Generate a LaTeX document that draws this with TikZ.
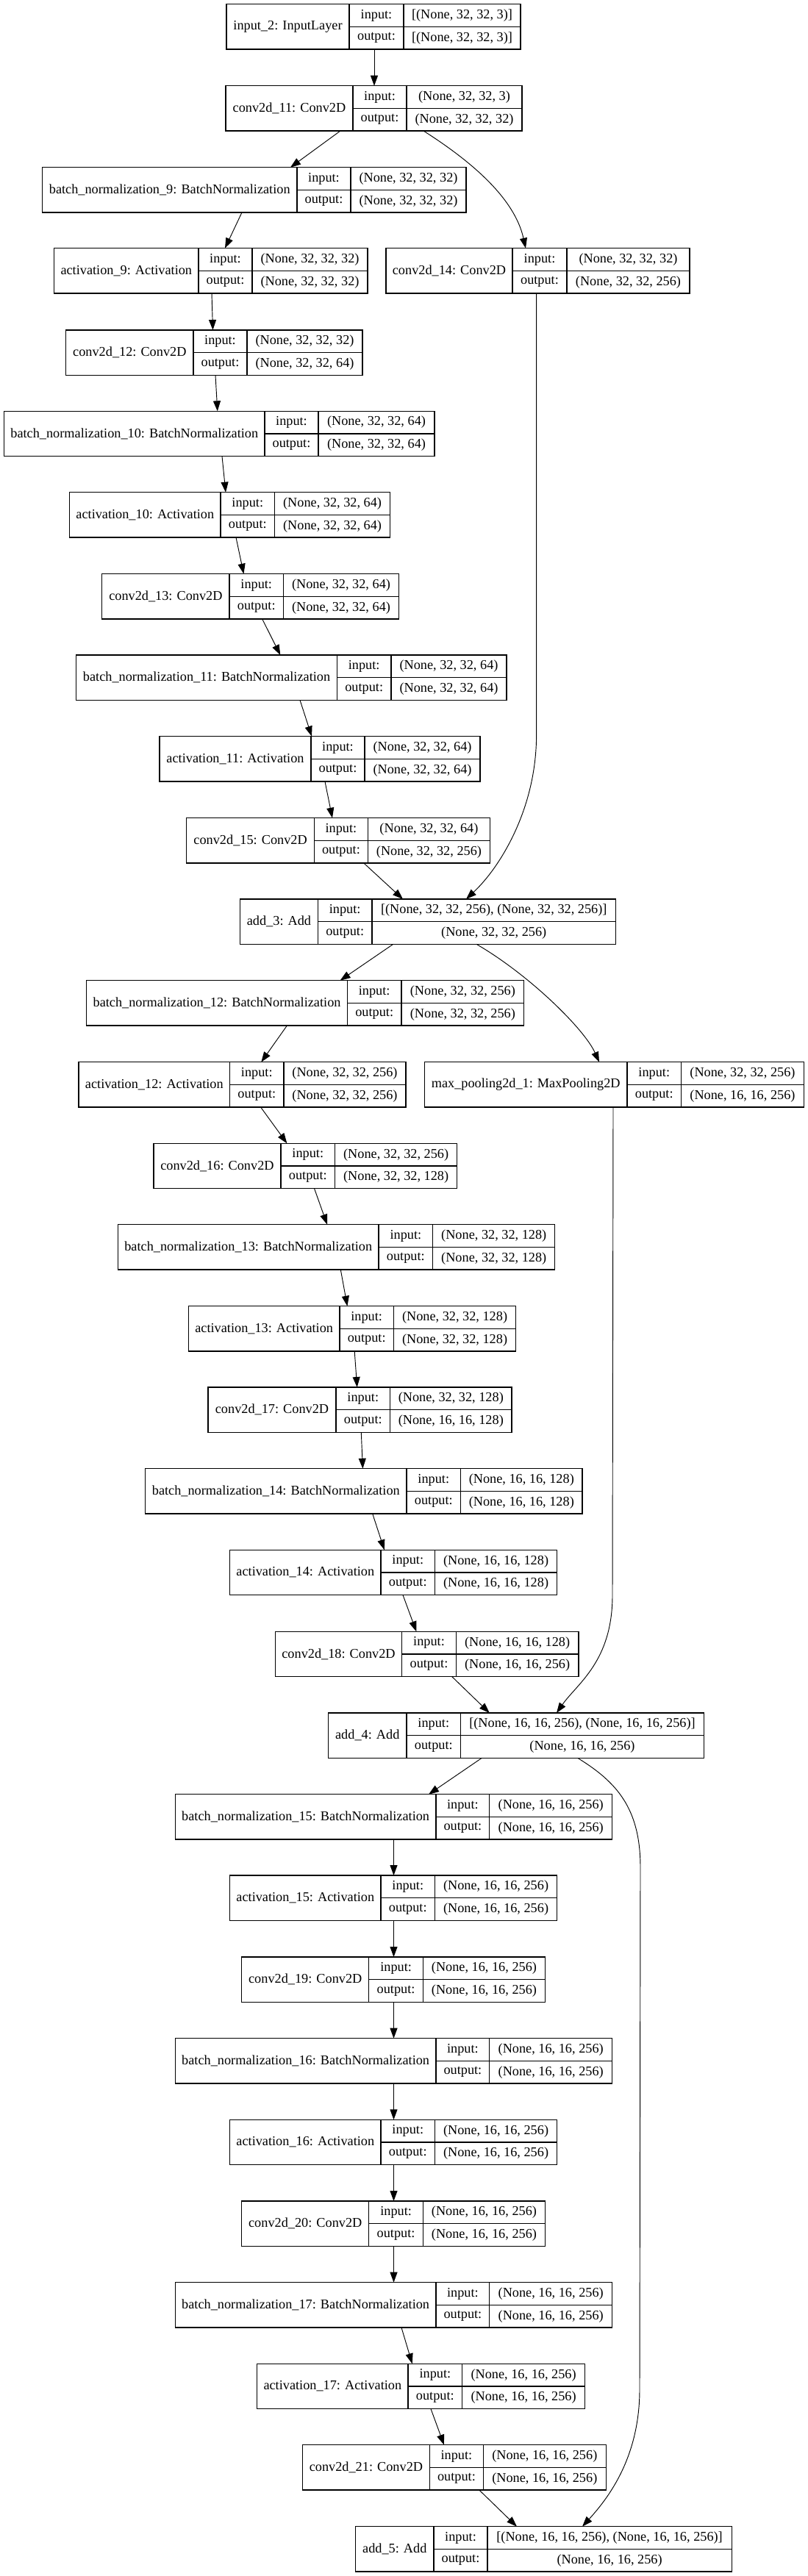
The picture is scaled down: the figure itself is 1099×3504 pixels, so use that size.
\documentclass[tikz,border=0pt]{standalone}
\usepackage{fontspec}
\setmainfont{Liberation Serif}
\usetikzlibrary{arrows.meta}

\tikzset{
  layer/.style={draw, line width=0.9pt, rectangle, inner sep=0pt, outer sep=0pt, minimum height=45.975pt},
  cell/.style={font=\fontsize{13.7}{16}\selectfont, inner sep=0pt},
  edge/.style={line width=0.7pt, -{Triangle[length=10.5pt,width=7.5pt]}},
}

% name, left, split1, split2, right, top, label, input, output
\newcommand{\modelbox}[9]{%
  \node[layer, minimum width={(#5-#2)*0.75pt}] (#1) at ({(#2+#5)/2},{#6+30.65}) {};
  \draw[line width=0.9pt] ({#3},{#6}) -- ({#3},{#6+61.3}) ({#4},{#6}) -- ({#4},{#6+61.3})
    ({#3},{#6+30.65}) -- ({#5},{#6+30.65});
  \node[cell] (#1-name) at ({(#2+#3)/2},{#6+30.65}) {#7};
  \node[cell] (#1-in) at ({(#3+#4)/2},{#6+15.3}) {input:};
  \node[cell] (#1-out) at ({(#3+#4)/2},{#6+46}) {output:};
  \node[cell] (#1-inval) at ({(#4+#5)/2},{#6+15.3}) {#8};
  \node[cell] (#1-outval) at ({(#4+#5)/2},{#6+46}) {#9};
}

\begin{document}
\begin{tikzpicture}[x=0.75pt, y=-0.75pt]
        \useasboundingbox (0,0) rectangle (1099,3504);

        \modelbox{in2}{308}{475}{549}{708}{5.7}{input\_2: InputLayer}{[(None, 32, 32, 3)]}{[(None, 32, 32, 3)]}
        \modelbox{c11}{307}{480}{553}{710}{116.7}{conv2d\_11: Conv2D}{(None, 32, 32, 3)}{(None, 32, 32, 32)}
        \modelbox{bn9}{57.5}{404}{477}{634}{227.7}{batch\_normalization\_9: BatchNormalization}{(None, 32, 32, 32)}{(None, 32, 32, 32)}
        \modelbox{a9}{73.6}{270}{343}{500}{337.7}{activation\_9: Activation}{(None, 32, 32, 32)}{(None, 32, 32, 32)}
        \modelbox{c14}{525}{697}{771}{938}{337.7}{conv2d\_14: Conv2D}{(None, 32, 32, 32)}{(None, 32, 32, 256)}
        \modelbox{c12}{89.7}{263}{336}{493}{449}{conv2d\_12: Conv2D}{(None, 32, 32, 32)}{(None, 32, 32, 64)}
        \modelbox{bn10}{5.6}{360}{433}{591}{559.3}{batch\_normalization\_10: BatchNormalization}{(None, 32, 32, 64)}{(None, 32, 32, 64)}
        \modelbox{a10}{94.6}{300}{373.6}{530.6}{669.7}{activation\_10: Activation}{(None, 32, 32, 64)}{(None, 32, 32, 64)}
        \modelbox{c13}{138.8}{312}{385.5}{542.5}{780.7}{conv2d\_13: Conv2D}{(None, 32, 32, 64)}{(None, 32, 32, 64)}
        \modelbox{bn11}{103.7}{458.4}{532}{689}{891}{batch\_normalization\_11: BatchNormalization}{(None, 32, 32, 64)}{(None, 32, 32, 64)}
        \modelbox{a11}{217}{423}{496}{653}{1001.7}{activation\_11: Activation}{(None, 32, 32, 64)}{(None, 32, 32, 64)}
        \modelbox{c15}{253.7}{427.5}{500.4}{666.5}{1112.7}{conv2d\_15: Conv2D}{(None, 32, 32, 64)}{(None, 32, 32, 256)}
        \modelbox{add3}{326.6}{432.4}{506}{837.5}{1223}{add\_3: Add}{[(None, 32, 32, 256), (None, 32, 32, 256)]}{(None, 32, 32, 256)}
        \modelbox{bn12}{117.7}{472.4}{546}{712.8}{1333.7}{batch\_normalization\_12: BatchNormalization}{(None, 32, 32, 256)}{(None, 32, 32, 256)}
        \modelbox{a12}{107}{312.6}{386}{552}{1444.7}{activation\_12: Activation}{(None, 32, 32, 256)}{(None, 32, 32, 256)}
        \modelbox{mp1}{577.5}{853}{926.5}{1093.4}{1444.7}{max\_pooling2d\_1: MaxPooling2D}{(None, 32, 32, 256)}{(None, 16, 16, 256)}
        \modelbox{c16}{208.9}{382}{455.6}{621.7}{1555.3}{conv2d\_16: Conv2D}{(None, 32, 32, 256)}{(None, 32, 32, 128)}
        \modelbox{bn13}{160.5}{515}{588.7}{754.8}{1665.7}{batch\_normalization\_13: BatchNormalization}{(None, 32, 32, 128)}{(None, 32, 32, 128)}
        \modelbox{a13}{256.5}{461.9}{535.5}{701.6}{1776.7}{activation\_13: Activation}{(None, 32, 32, 128)}{(None, 32, 32, 128)}
        \modelbox{c17}{283}{457}{530.6}{696}{1887}{conv2d\_17: Conv2D}{(None, 32, 32, 128)}{(None, 16, 16, 128)}
        \modelbox{bn14}{197.6}{553}{626.6}{792}{1997.7}{batch\_normalization\_14: BatchNormalization}{(None, 16, 16, 128)}{(None, 16, 16, 128)}
        \modelbox{a14}{312.6}{518}{591.5}{757.6}{2108.3}{activation\_14: Activation}{(None, 16, 16, 128)}{(None, 16, 16, 128)}
        \modelbox{c18}{374.3}{546.7}{620.3}{787}{2219.3}{conv2d\_18: Conv2D}{(None, 16, 16, 128)}{(None, 16, 16, 256)}
        \modelbox{add4}{446.5}{553}{626.6}{957.4}{2330}{add\_4: Add}{[(None, 16, 16, 256), (None, 16, 16, 256)]}{(None, 16, 16, 256)}
        \modelbox{bn15}{238.3}{593}{665.8}{832.6}{2440.7}{batch\_normalization\_15: BatchNormalization}{(None, 16, 16, 256)}{(None, 16, 16, 256)}
        \modelbox{a15}{312.6}{518}{591.5}{757.6}{2551}{activation\_15: Activation}{(None, 16, 16, 256)}{(None, 16, 16, 256)}
        \modelbox{c19}{328.7}{501.8}{575.4}{741.5}{2662}{conv2d\_19: Conv2D}{(None, 16, 16, 256)}{(None, 16, 16, 256)}
        \modelbox{bn16}{238.3}{593}{665.8}{832.6}{2772.7}{batch\_normalization\_16: BatchNormalization}{(None, 16, 16, 256)}{(None, 16, 16, 256)}
        \modelbox{a16}{312.6}{518}{591.5}{757.6}{2883.3}{activation\_16: Activation}{(None, 16, 16, 256)}{(None, 16, 16, 256)}
        \modelbox{c20}{328.7}{501.8}{575.4}{741.5}{2994}{conv2d\_20: Conv2D}{(None, 16, 16, 256)}{(None, 16, 16, 256)}
        \modelbox{bn17}{238.3}{593}{665.8}{832.6}{3104.7}{batch\_normalization\_17: BatchNormalization}{(None, 16, 16, 256)}{(None, 16, 16, 256)}
        \modelbox{a17}{349.7}{555}{628.7}{795.5}{3215.3}{activation\_17: Activation}{(None, 16, 16, 256)}{(None, 16, 16, 256)}
        \modelbox{c21}{411.4}{584.5}{657.4}{824.2}{3325.7}{conv2d\_21: Conv2D}{(None, 16, 16, 256)}{(None, 16, 16, 256)}
        \modelbox{add5}{483.6}{590}{663}{995.2}{3436.7}{add\_5: Add}{[(None, 16, 16, 256), (None, 16, 16, 256)]}{(None, 16, 16, 256)}

        \draw[edge] (509,0 |- in2.south) -- (509,0 |- c11.north);
        \draw[edge] (463,0 |- c11.south) -- (395,0 |- bn9.north);
        \draw[edge] (576,0 |- c11.south) .. controls (642,220) and (700,270) .. (715,0 |- c14.north);
        \draw[edge] (329,0 |- bn9.south) -- (306,0 |- a9.north);
        \draw[edge] (288,0 |- a9.south) -- (289.5,0 |- c12.north);
        \draw[edge] (293,0 |- c12.south) -- (295.8,0 |- bn10.north);
        \draw[edge] (302,0 |- bn10.south) -- (307,0 |- a10.north);
        \draw[edge] (321,0 |- a10.south) -- (331.5,0 |- c13.north);
        \draw[edge] (356.7,0 |- c13.south) -- (381.3,0 |- bn11.north);
        \draw[edge] (408,0 |- bn11.south) -- (424,0 |- a11.north);
        \draw[edge] (442,0 |- a11.south) -- (452,0 |- c15.north);
        \draw[edge] (494.8,0 |- c15.south) -- (548,0 |- add3.north);
        \draw[edge] (729.6,0 |- c14.south) -- (729.6,1000) .. controls (729.6,1100) and (680,1180) .. (634,0 |- add3.north);
        \draw[edge] (534.8,0 |- add3.south) -- (462.6,0 |- bn12.north);
        \draw[edge] (648,0 |- add3.south) .. controls (720,1326) and (795,1400) .. (815,0 |- mp1.north);
        \draw[edge] (390.4,0 |- bn12.south) -- (355.3,0 |- a12.north);
        \draw[edge] (354.6,0 |- a12.south) -- (390.4,0 |- c16.north);
        \draw[edge] (427.5,0 |- c16.south) -- (445,0 |- bn13.north);
        \draw[edge] (834,0 |- mp1.south) -- (833,2170) .. controls (833,2260) and (785,2290) .. (757,0 |- add4.north);
        \draw[edge] (463.3,0 |- bn13.south) -- (472.4,0 |- a13.north);
        \draw[edge] (482.2,0 |- a13.south) -- (485.7,0 |- c17.north);
        \draw[edge] (491.3,0 |- c17.south) -- (493.4,0 |- bn14.north);
        \draw[edge] (506.7,0 |- bn14.south) -- (522.8,0 |- a14.north);
        \draw[edge] (548,0 |- a14.south) -- (566.3,0 |- c18.north);
        \draw[edge] (614.7,0 |- c18.south) -- (665.8,0 |- add4.north);
        \draw[edge] (655.3,0 |- add4.south) -- (583,0 |- bn15.north);
        \draw[edge] (785.7,0 |- add4.south) .. controls (839,2424) and (871,2460) .. (871,2540) -- (870,3250) .. controls (870,3340) and (830,3395) .. (792,0 |- add5.north);
        \draw[edge] (535.5,0 |- bn15.south) -- (535.5,0 |- a15.north);
        \draw[edge] (535.5,0 |- a15.south) -- (535.5,0 |- c19.north);
        \draw[edge] (535.5,0 |- c19.south) -- (535.5,0 |- bn16.north);
        \draw[edge] (535.5,0 |- bn16.south) -- (535.5,0 |- a16.north);
        \draw[edge] (535.5,0 |- a16.south) -- (535.5,0 |- c20.north);
        \draw[edge] (535.5,0 |- c20.south) -- (535.5,0 |- bn17.north);
        \draw[edge] (546,0 |- bn17.south) -- (560.7,0 |- a17.north);
        \draw[edge] (586,0 |- a17.south) -- (604,0 |- c21.north);
        \draw[edge] (651.8,0 |- c21.south) -- (703,0 |- add5.north);

\end{tikzpicture}
\end{document}
